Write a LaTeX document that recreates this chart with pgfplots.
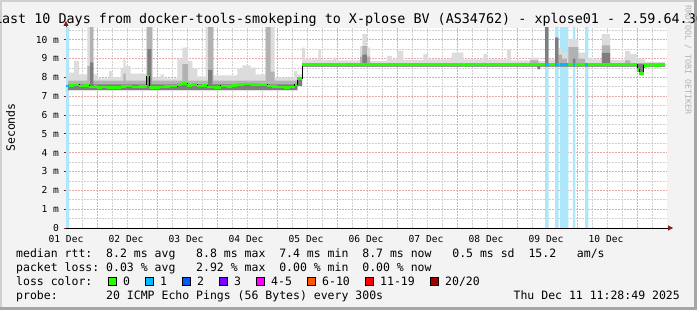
\documentclass[border=0pt]{standalone}
\usepackage{fontspec}
\setmainfont{DejaVu Sans Mono}
\usepackage{pgfplots}
\usepackage{pgfplotstable}
\pgfplotsset{compat=1.18}
\usetikzlibrary{arrows.meta}
\definecolor{bgc}{HTML}{F3F3F3}
\definecolor{edgeL}{HTML}{D0D0D0}
\definecolor{edgeD}{HTML}{A6A6A6}
\definecolor{gridR}{HTML}{E4A8A8}
\definecolor{gridG}{HTML}{CFCFCF}
\definecolor{arrowR}{HTML}{8B1A1A}
\definecolor{lossbg}{HTML}{AEE6FA}
\definecolor{smokeA}{HTML}{DCDCDC}
\definecolor{smokeB}{HTML}{B2B2B2}
\definecolor{smokeC}{HTML}{7E7E7E}
\definecolor{lzero}{HTML}{26FF00}
\definecolor{lone}{HTML}{00B8FF}
\definecolor{ltwo}{HTML}{0059FF}
\definecolor{lthree}{HTML}{7E00FF}
\definecolor{lfour}{HTML}{FF00FF}
\definecolor{lsix}{HTML}{FF5500}
\definecolor{leleven}{HTML}{FF0000}
\definecolor{ltwenty}{HTML}{A10000}
\newcommand{\legfont}{\fontsize{11.5}{13}\selectfont}
\newcommand{\tickfont}{\fontsize{9.6}{11}\selectfont}
\frenchspacing
\pgfplotstableread{
h ms
0 7.54
1.5 7.56
3.2 7.60
5.2 7.54
7.0 7.56
9.2 7.49
11.0 7.51
12.5 7.45
14.5 7.49
16.5 7.47
19.2 7.45
21.9 7.50
24.0 7.53
26.5 7.49
29.0 7.52
32.3 8.07
33.3 7.47
35.5 7.45
37.5 7.49
39.2 7.50
41.5 7.53
44.5 7.61
46.5 7.68
48.5 7.58
50.5 7.62
52.5 7.54
54.5 7.56
56.5 7.49
59.0 7.47
61.9 7.54
64.5 7.52
66.5 7.56
68.5 7.61
71.0 7.64
73.9 7.63
77.0 7.60
80.5 7.54
82.5 7.51
84.5 7.49
87.0 7.46
89.5 7.49
91.5 7.62
92.5 7.95
94.4 8.69
158.7 8.62
159.6 8.69
228.5 8.43
229.3 8.20
231.0 8.63
233.0 8.69
235.0 8.64
237.0 8.69
239.6 8.69
}\mediantab
\begin{document}
\begin{tikzpicture}
\begin{scope}[x=1pt,y=1pt]
\useasboundingbox (0,0) rectangle (697,310);
\fill[bgc] (0,0) rectangle (697,310);
\fill[edgeL] (0,0) rectangle (2,310);
\fill[edgeL] (0,308) rectangle (697,310);
\fill[edgeD] (694,0) rectangle (697,310);
\fill[edgeD] (0,0) rectangle (697,3);
\node[anchor=base, inner sep=0] at (349,286.7) {\fontsize{13.4}{15}\selectfont Last 10 Days from docker-tools-smokeping to X-plose BV (AS34762) - xplose01 - 2.59.64.36};
\node[rotate=-90, inner sep=0, text=black!30] at (688,250) {\fontsize{8.3}{9}\selectfont RRDTOOL / TOBI OETIKER};
\node[rotate=90, inner sep=0] at (10.5,182.5) {\legfont Seconds};
\end{scope}
\begin{axis}[
  at={(66pt,82pt)}, anchor=south west, scale only axis,
  width=601pt, height=200pt,
  xmin=0, xmax=240.4, ymin=0, ymax=10.62,
  axis x line=bottom, axis y line=left,
  axis background/.style={fill=white},
  x axis line style={black, line width=0.9pt, -{Triangle[color=arrowR,length=5pt,width=5pt]}, shorten >=-6pt},
  y axis line style={black!75, line width=0.9pt, -{Triangle[color=arrowR,length=5pt,width=5pt]}, shorten >=-7pt},
  xtick={0,24,48,72,96,120,144,168,192,216},
  xticklabels={01 Dec,02 Dec,03 Dec,04 Dec,05 Dec,06 Dec,07 Dec,08 Dec,09 Dec,10 Dec},
  ytick={0,1,2,3,4,5,6,7,8,9,10},
  yticklabels={0,1 m,2 m,3 m,4 m,5 m,6 m,7 m,8 m,9 m,10 m},
  minor xtick={0.5,6.5,18.5,24.5,30.5,42.5,48.5,54.5,66.5,72.5,78.5,90.5,96.5,102.5,114.5,120.5,126.5,138.5,144.5,150.5,162.5,168.5,174.5,186.5,192.5,198.5,210.5,216.5,222.5,234.5},
  minor ytick={0.5,1.5,2.5,3.5,4.5,5.5,6.5,7.5,8.5,9.5,10.5},
  extra x ticks={12.5,36.5,60.5,84.5,108.5,132.5,156.5,180.5,204.5,228.5},
  extra x tick labels={},
  extra x tick style={grid=major, major tick length=0pt},
  xmajorgrids=false, ymajorgrids=true, xminorgrids=true, yminorgrids=true,
  major grid style={gridR, line width=0.8pt, dash pattern=on 1.5pt off 1.5pt},
  minor grid style={gridG, line width=0.8pt, dash pattern=on 1.5pt off 1.5pt},
  minor tick length=0pt,
  xtick style={draw=none},
  ytick style={arrowR, line width=0.8pt},
  major tick length=2.5pt, tick align=outside,
  xticklabel style={font=\tickfont, anchor=base, yshift=-12pt},
  yticklabel style={font=\tickfont, anchor=east, xshift=-1pt},
]
% loss background columns
\addplot[const plot, fill=lossbg, draw=none] coordinates {
 (0,10.7) (1.2,0) (191.6,10.7) (193,0) (195.6,10.7) (197,0) (197.6,10.7) (200.9,0)
 (202.7,10.7) (203.7,0) (207.6,10.7) (208.9,0) (240.4,0)} \closedcycle;
% light smoke: upper envelope, then back along the lower bound
\addplot[const plot, fill=smokeA, draw=none] coordinates {
 (0,7.32) (0.8,8.25) (3.2,8.87) (5.2,8.16) (8.53,10.7) (10.93,8.16) (12.53,7.95)
 (17.2,8.34) (18.53,8.0) (21.87,8.5) (22.93,8.96) (23.87,8.6) (25.87,8.2)
 (32.27,10.7) (34.53,7.98) (37.87,8.16) (39.2,7.95) (44.53,8.96) (46.53,9.58)
 (48.8,8.87) (50.53,8.43) (52.53,8.05) (55.87,10.7) (58.93,8.1) (68.53,8.43)
 (70.53,8.64) (73.87,8.52) (75.87,8.16) (79.87,10.7) (83.47,7.98) (91.2,8.34)
 (92.53,8.16) (94.4,9.58) (95.6,8.96) (100.9,9.49) (101.9,8.92) (106.9,9.05)
 (107.9,8.9) (117.6,9.66) (118.5,10.29) (120.3,9.58) (121.6,8.87) (128.3,9.14)
 (130.3,8.96) (132.3,9.4) (134.9,8.92) (142.9,9.23) (144.9,8.96) (154.3,9.31)
 (158.9,8.96) (166.9,9.23) (168.3,8.96) (176.3,9.49) (177.9,8.9) (185.6,9.05)
 (188.9,8.87) (191.6,10.7) (192.9,8.96) (195.6,10.11) (196.9,9.58) (198.3,9.31)
 (200.3,8.96) (200.9,10.02) (204.9,9.31) (207.6,9.05) (210.9,8.96) (214.3,10.29)
 (217.6,8.92) (223.6,9.4) (225.6,9.23) (228.3,8.96) (231.6,8.82) (239.6,8.82)}
 -- (axis cs:239.6,8.57) -- (axis cs:231.6,8.57) -- (axis cs:231.6,8.5) -- (axis cs:231,8.5)
 -- (axis cs:231,8.12) -- (axis cs:229.3,8.12) -- (axis cs:229.3,8.3) -- (axis cs:228.3,8.3)
 -- (axis cs:228.3,8.57) -- (axis cs:189.6,8.57) -- (axis cs:189.6,8.43) -- (axis cs:188.5,8.43)
 -- (axis cs:188.5,8.57) -- (axis cs:94.4,8.57) -- (axis cs:94.4,7.55) -- (axis cs:92.5,7.55)
 -- (axis cs:92.5,7.32) -- (axis cs:0,7.32) -- cycle;
% medium smoke
\addplot[const plot, fill=smokeB, draw=none] coordinates {
 (0,7.32) (0.8,7.82) (8.53,8.6) (9.6,10.7) (10.93,7.82) (22.93,8.2) (23.87,7.82)
 (32.27,10.7) (34.53,7.82) (46.53,8.7) (48.8,7.82) (56.8,10.7) (58.93,7.82)
 (79.87,10.7) (81.87,8.3) (83.47,7.82) (92.5,7.95) (94.4,8.76) (117.6,9.1)
 (118.5,9.66) (120.3,9.1) (121.6,8.76) (185.6,8.9) (188.9,8.76) (191.6,10.7)
 (192.9,8.76) (195.6,10.11) (196.9,9.2) (198.3,9.0) (200.3,8.76) (200.9,9.6)
 (204.9,9.0) (207.6,8.76) (214.3,9.7) (217.6,8.76) (223.6,8.9) (225.6,8.76)
 (239.6,8.76)}
 -- (axis cs:239.6,8.57) -- (axis cs:231.6,8.57) -- (axis cs:231.6,8.5) -- (axis cs:231,8.5)
 -- (axis cs:231,8.12) -- (axis cs:229.3,8.12) -- (axis cs:229.3,8.3) -- (axis cs:228.3,8.3)
 -- (axis cs:228.3,8.57) -- (axis cs:189.6,8.57) -- (axis cs:189.6,8.43) -- (axis cs:188.5,8.43)
 -- (axis cs:188.5,8.57) -- (axis cs:94.4,8.57) -- (axis cs:94.4,7.55) -- (axis cs:92.5,7.55)
 -- (axis cs:92.5,7.32) -- (axis cs:0,7.32) -- cycle;
% dark smoke
\addplot[const plot, fill=smokeC, draw=none] coordinates {
 (0,7.32) (0.8,7.62) (9.6,8.8) (10.93,7.62) (32.5,9.5) (34.1,7.62) (56.8,8.4)
 (58.5,7.62) (92.5,7.9) (94.4,8.72) (118.5,9.2) (120.3,8.72) (191.6,10.7)
 (192.9,8.72) (195.6,10.11) (196.9,8.72) (202.7,9.0) (203.7,8.72) (214.3,9.3)
 (217.6,8.72) (239.6,8.72)}
 -- (axis cs:239.6,8.57) -- (axis cs:231.6,8.57) -- (axis cs:231.6,8.5) -- (axis cs:231,8.5)
 -- (axis cs:231,8.12) -- (axis cs:229.3,8.12) -- (axis cs:229.3,8.3) -- (axis cs:228.3,8.3)
 -- (axis cs:228.3,8.57) -- (axis cs:189.6,8.57) -- (axis cs:189.6,8.43) -- (axis cs:188.5,8.43)
 -- (axis cs:188.5,8.57) -- (axis cs:94.4,8.57) -- (axis cs:94.4,7.55) -- (axis cs:92.5,7.55)
 -- (axis cs:92.5,7.32) -- (axis cs:0,7.32) -- cycle;
% median rtt
\addplot[const plot, black, line width=1pt] table[x=h, y=ms] {\mediantab};
\addplot[jump mark left, lzero, line width=2.6pt] table[x=h, y=ms] {\mediantab};
\addplot[lone, line width=2.6pt] coordinates {(0,7.54) (1.2,7.54)};
\addplot[lone, line width=2.6pt] coordinates {(191.6,8.69) (193,8.69)};
\addplot[lone, line width=2.6pt] coordinates {(195.6,8.69) (197,8.69)};
\addplot[lone, line width=2.6pt] coordinates {(197.6,8.69) (200.9,8.69)};
\addplot[lone, line width=2.6pt] coordinates {(202.7,8.69) (203.7,8.69)};
\addplot[lone, line width=2.6pt] coordinates {(207.6,8.69) (208.9,8.69)};
\end{axis}
\begin{scope}[x=1pt,y=1pt]
\node[anchor=base west, inner sep=0] at (16,52.3) {\legfont median rtt:~~8.2 ms avg~~~8.8 ms max~~7.4 ms min~~8.7 ms now~~~0.5 ms sd~~15.2~~~am/s};
\node[anchor=base west, inner sep=0] at (16,38) {\legfont packet loss:~0.03 \% avg~~~2.92 \% max~~0.00 \% min~~0.00 \% now};
\node[anchor=base west, inner sep=0] at (16,24.3) {\legfont loss color:};
\draw[fill=lzero, line width=0.8pt] (108,24.8) rectangle ++(8,8);
\node[anchor=base west, inner sep=0] at (123,24.3) {\legfont 0};
\draw[fill=lone, line width=0.8pt] (145,24.8) rectangle ++(8,8);
\node[anchor=base west, inner sep=0] at (160,24.3) {\legfont 1};
\draw[fill=ltwo, line width=0.8pt] (182,24.8) rectangle ++(8,8);
\node[anchor=base west, inner sep=0] at (197,24.3) {\legfont 2};
\draw[fill=lthree, line width=0.8pt] (219,24.8) rectangle ++(8,8);
\node[anchor=base west, inner sep=0] at (234,24.3) {\legfont 3};
\draw[fill=lfour, line width=0.8pt] (256,24.8) rectangle ++(8,8);
\node[anchor=base west, inner sep=0] at (271,24.3) {\legfont 4-5};
\draw[fill=lsix, line width=0.8pt] (307,24.8) rectangle ++(8,8);
\node[anchor=base west, inner sep=0] at (322,24.3) {\legfont 6-10};
\draw[fill=leleven, line width=0.8pt] (365,24.8) rectangle ++(8,8);
\node[anchor=base west, inner sep=0] at (380,24.3) {\legfont 11-19};
\draw[fill=ltwenty, line width=0.8pt] (430,24.8) rectangle ++(8,8);
\node[anchor=base west, inner sep=0] at (445,24.3) {\legfont 20/20};
\node[anchor=base west, inner sep=0] at (16,10.3) {\legfont probe:~~~~~~~20 ICMP Echo Pings (56 Bytes) every 300s};
\node[anchor=base east, inner sep=0] at (680,10.3) {\legfont Thu Dec 11 11:28:49 2025};
\end{scope}
\end{tikzpicture}
\end{document}
